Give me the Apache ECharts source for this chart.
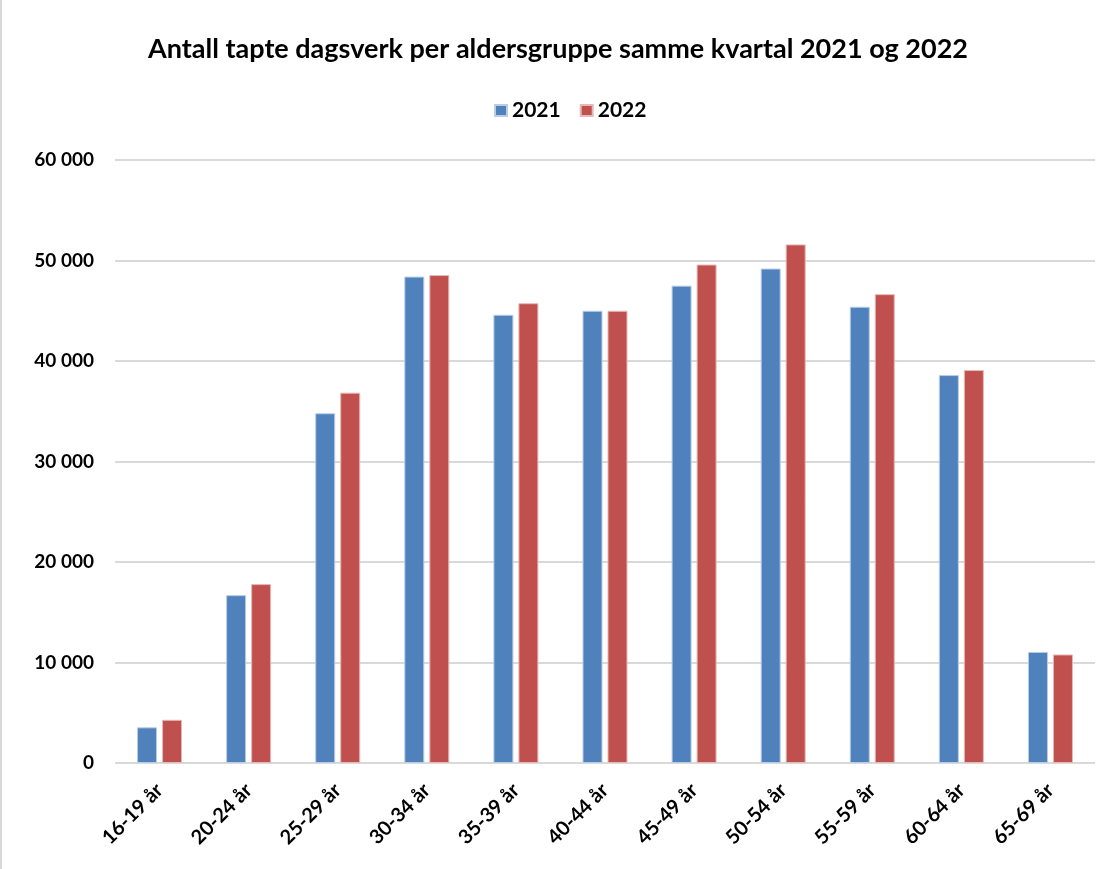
<!DOCTYPE html>
<html>
<head>
<meta charset="utf-8">
<script src="https://cdn.jsdelivr.net/npm/echarts@6/dist/echarts.min.js"></script>
<style>
  html, body { margin: 0; padding: 0; background: #fff; }
  #chart { width: 1114px; height: 869px; box-sizing: border-box; border-left: 2px solid #d9d9d9; }
</style>
</head>
<body>
<div id="chart"></div>
<script>
const categories = ['16-19 år', '20-24 år', '25-29 år', '30-34 år', '35-39 år', '40-44 år', '45-49 år', '50-54 år', '55-59 år', '60-64 år', '65-69 år']
const values2021 = [3550, 16700, 34800, 48400, 44600, 45000, 47500, 49200, 45400, 38600, 11050]
const values2022 = [4300, 17800, 36850, 48550, 45750, 45000, 49600, 51600, 46650, 39100, 10800]

const font = 'Lato, "Open Sans", sans-serif'
const chart = echarts.init(document.getElementById('chart'))

const option = {
  animation: false,
  title: {
    text: 'Antall tapte dagsverk per aldersgruppe samme kvartal 2021 og 2022',
    left: 'center',
    top: 31,
    textStyle: { fontFamily: font, fontSize: 27, fontWeight: 'bold', color: '#000' }
  },
  legend: {
    top: 95,
    left: 487,
    itemWidth: 12,
    itemHeight: 11,
    itemGap: 19,
    icon: 'rect',
    textStyle: { fontFamily: font, fontSize: 21, fontWeight: 'bold', color: '#000' }
  },
  grid: { left: 113, right: 19, top: 160, bottom: 106 },
  xAxis: {
    type: 'category',
    data: categories,
    axisLine: { show: false },
    axisTick: { show: false },
    axisLabel: {
      rotate: 45,
      margin: 24,
      fontFamily: font,
      fontSize: 20,
      fontWeight: 'bold',
      color: '#000'
    }
  },
  yAxis: {
    type: 'value',
    min: 0,
    max: 60000,
    interval: 10000,
    axisLabel: {
      margin: 21,
      fontFamily: font,
      fontSize: 19,
      fontWeight: 'bold',
      color: '#000',
      formatter: v => String(v).replace(/\B(?=(\d{3})+(?!\d))/g, ' ')
    },
    splitLine: { lineStyle: { color: '#d9d9d9', width: 2 } }
  },
  series: [
    {
      name: '2021',
      type: 'bar',
      data: values2021,
      barWidth: 20,
      barGap: '25%',
      itemStyle: { color: '#4f81bd', borderColor: '#b9cde5', borderWidth: 1 }
    },
    {
      name: '2022',
      type: 'bar',
      data: values2022,
      barWidth: 20,
      itemStyle: { color: '#c0504d', borderColor: '#e6b9b8', borderWidth: 1 }
    }
  ]
}

chart.setOption(option)
</script>
</body>
</html>
